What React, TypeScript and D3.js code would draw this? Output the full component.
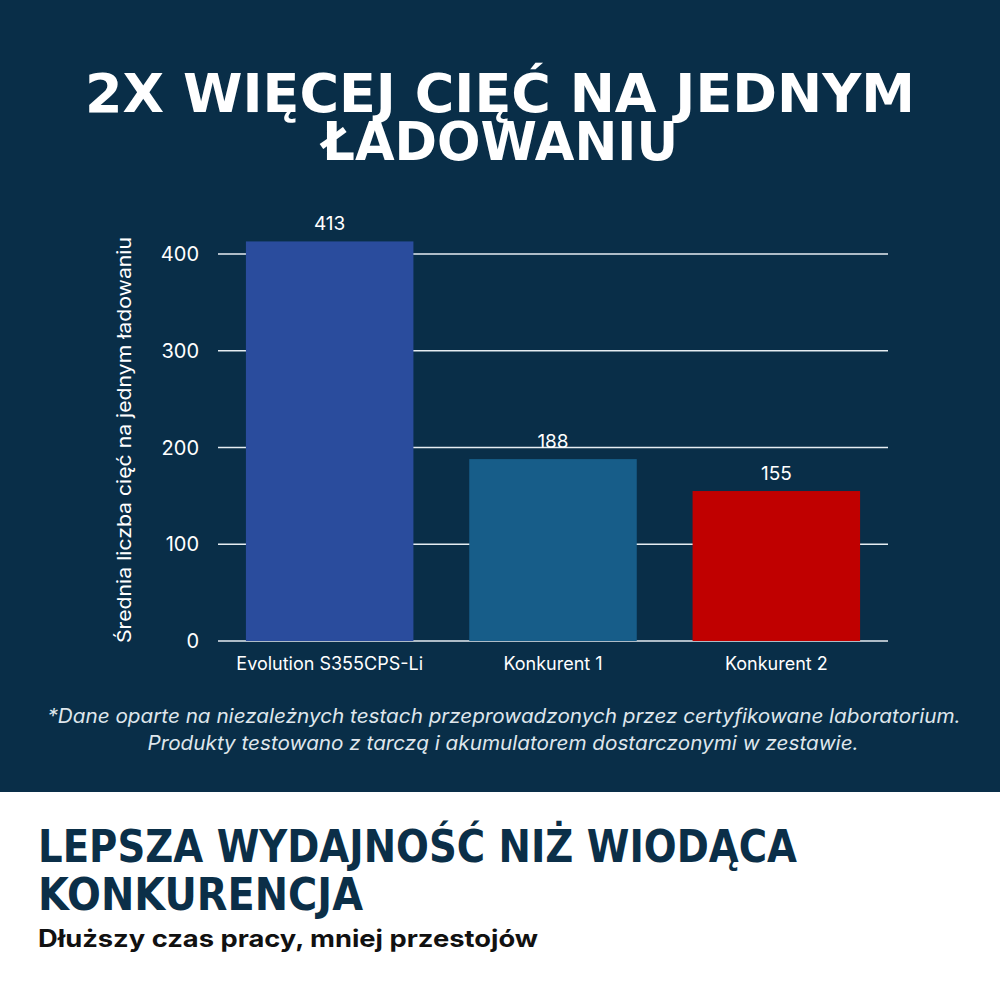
import React from "react";
import * as d3 from "d3";

const categories = ["Evolution S355CPS-Li", "Konkurent 1", "Konkurent 2"];
const values = [413, 188, 155];
const barColors = ["#2a4c9d", "#175d89", "#c00000"];
const yTicks = [0, 100, 200, 300, 400];
const titleLines = ["2X WIĘCEJ CIĘĆ NA JEDNYM", "ŁADOWANIU"];
const yAxisTitle = "Średnia liczba cięć na jednym ładowaniu";
const footnoteLines = [
  "*Dane oparte na niezależnych testach przeprowadzonych przez certyfikowane laboratorium.",
  "Produkty testowano z tarczą i akumulatorem dostarczonymi w zestawie.",
];
const headingLines = ["LEPSZA WYDAJNOŚĆ NIŻ WIODĄCA", "KONKURENCJA"];
const subtitle = "Dłuższy czas pracy, mniej przestojów";

const BG = "#092e48";

export default function App() {
  const x = d3
    .scaleBand<string>()
    .domain(categories)
    .range([218, 888])
    .paddingInner(0.25)
    .paddingOuter(0.125);
  const y = d3.scaleLinear().domain([0, 400]).range([641, 254]);

  const sans = "Inter, 'Noto Sans', sans-serif";
  const wide = "'DejaVu Sans', Verdana, sans-serif";

  return (
    <svg
      width={1000}
      height={1000}
      style={{ position: "absolute", left: 0, top: 0 }}
      viewBox="0 0 1000 1000"
    >
      <rect x={0} y={0} width={1000} height={1000} fill="#ffffff" />
      <rect x={0} y={0} width={1000} height={792} fill={BG} />

      {/* Title */}
      <text
        x={500}
        y={112}
        textAnchor="middle"
        fill="#ffffff"
        fontFamily={wide}
        fontWeight={700}
        fontSize={54}
        textLength={830}
        lengthAdjust="spacingAndGlyphs"
      >
        {titleLines[0]}
      </text>
      <text
        x={500}
        y={160}
        textAnchor="middle"
        fill="#ffffff"
        fontFamily={wide}
        fontWeight={700}
        fontSize={54}
        textLength={356}
        lengthAdjust="spacingAndGlyphs"
      >
        {titleLines[1]}
      </text>

      {/* Gridlines */}
      {yTicks.map((t) => (
        <line
          key={"g" + t}
          x1={218}
          x2={888}
          y1={y(t)}
          y2={y(t)}
          stroke="#e6edf2"
          strokeWidth={1.5}
        />
      ))}
      {/* Tick labels */}
      {yTicks.map((t) => (
        <text
          key={"t" + t}
          x={199}
          y={y(t)}
          dy="0.36em"
          textAnchor="end"
          fill="#ffffff"
          fontFamily={sans}
          fontSize={20}
        >
          {t}
        </text>
      ))}

      {/* Bars */}
      {categories.map((c, i) => (
        <rect
          key={"b" + c}
          x={x(c)}
          y={y(values[i])}
          width={x.bandwidth()}
          height={y(0) - y(values[i])}
          fill={barColors[i]}
        />
      ))}
      {/* Value labels */}
      {categories.map((c, i) => (
        <text
          key={"v" + c}
          x={(x(c) as number) + x.bandwidth() / 2}
          y={y(values[i]) - 11}
          textAnchor="middle"
          fill="#ffffff"
          fontFamily={sans}
          fontSize={19}
        >
          {values[i]}
        </text>
      ))}
      {/* Category labels */}
      {categories.map((c) => (
        <text
          key={"c" + c}
          x={(x(c) as number) + x.bandwidth() / 2}
          y={670}
          textAnchor="middle"
          fill="#ffffff"
          fontFamily={sans}
          fontSize={18}
        >
          {c}
        </text>
      ))}

      {/* Y axis title */}
      <text
        transform="translate(131,440) rotate(-90)"
        textAnchor="middle"
        fill="#ffffff"
        fontFamily={sans}
        fontSize={19}
        textLength={406}
        lengthAdjust="spacingAndGlyphs"
      >
        {yAxisTitle}
      </text>

      {/* Footnote */}
      <text
        x={504}
        y={723}
        textAnchor="middle"
        fill="#dfe6ec"
        fontFamily={sans}
        fontStyle="italic"
        fontSize={20}
        textLength={913}
        lengthAdjust="spacingAndGlyphs"
      >
        {footnoteLines[0]}
      </text>
      <text
        x={503}
        y={750}
        textAnchor="middle"
        fill="#dfe6ec"
        fontFamily={sans}
        fontStyle="italic"
        fontSize={20}
        textLength={711}
        lengthAdjust="spacingAndGlyphs"
      >
        {footnoteLines[1]}
      </text>

      {/* Bottom heading */}
      <text
        x={38}
        y={862}
        fill="#0b2f48"
        fontFamily={wide}
        fontWeight={700}
        fontSize={44}
        textLength={759}
        lengthAdjust="spacingAndGlyphs"
      >
        {headingLines[0]}
      </text>
      <text
        x={38}
        y={910}
        fill="#0b2f48"
        fontFamily={wide}
        fontWeight={700}
        fontSize={44}
        textLength={325}
        lengthAdjust="spacingAndGlyphs"
      >
        {headingLines[1]}
      </text>
      <text
        x={38}
        y={947}
        fill="#111111"
        fontFamily={sans}
        fontWeight={700}
        fontSize={24}
        textLength={500}
        lengthAdjust="spacingAndGlyphs"
      >
        {subtitle}
      </text>
    </svg>
  );
}
